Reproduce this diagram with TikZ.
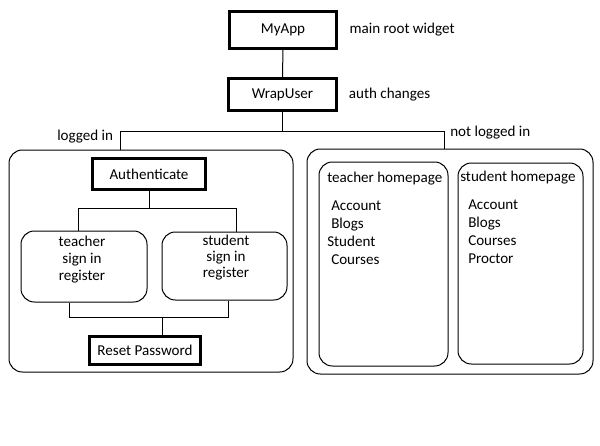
\documentclass[tikz,border=0pt]{standalone}
\usepackage{fontspec}
\setmainfont{Carlito}
\usetikzlibrary{positioning}
\definecolor{SketchInk}{HTML}{000000}
\tikzset{
  every node/.style={font=\fontsize{11.3pt}{13.5pt}\selectfont, text=SketchInk, inner sep=0pt},
  widget/.style={draw=SketchInk, line width=2.25pt},
  panel/.style={draw=SketchInk, line width=0.75pt, rounded corners=10pt},
  wire/.style={draw=SketchInk, line width=0.75pt},
}

\begin{document}
\begin{tikzpicture}[x=0.75pt,y=-0.75pt]
  \useasboundingbox (0,0) rectangle (600,446);
  % Root widgets
  \node[widget, minimum width=80.25pt, minimum height=27.75pt] (myapp) at (283,30) {MyApp};
  \node[widget, minimum width=81pt, minimum height=24pt] (wrap) at (282.5,94.5) {WrapUser};
  \node[right=8.5pt of myapp] (rootnote) {main root widget};
  \node[right=8pt of wrap] (authnote) {auth changes};
  \draw[wire] (myapp) -- (wrap);
  % Branches
  \coordinate (inL) at (120,131);
  \coordinate (inR) at (444,131);
  \node[panel, minimum width=213pt, minimum height=166.5pt] (logged) at (151,261) {};
  \node[panel, minimum width=214.5pt, minimum height=168.75pt] (guest) at (450,261.5) {};
  \draw[wire] (wrap) -- (wrap.south |- inL);
  \draw[wire] (logged.north -| inL) -- (inL) -- (inR) -- (guest.north -| inR);
  \node[anchor=base west] (inlabel) at (57,140) {logged in};
  \node[anchor=base west] (outlabel) at (450,136) {not logged in};
  % Panel logged in
  \node[widget, minimum width=84.75pt, minimum height=23.25pt] (auth) at (149,174) {Authenticate};
  \node[panel, minimum width=94.5pt, minimum height=53.25pt] (tsign) at (84,266.5) {};
  \node[panel, minimum width=93.75pt, minimum height=51pt] (ssign) at (224.5,266) {};
  \node[widget, minimum width=83.25pt, minimum height=21pt] (reset) at (145,350.5) {Reset Password};
  \foreach \entry [count=\i] in {teacher,sign in,register}
    \node[anchor=base] (tsigntxt\i) at (82,229+17*\i) {\entry};
  \foreach \entry [count=\i] in {student,sign in,register}
    \node[anchor=base] (ssigntxt\i) at (226,229+16*\i) {\entry};
  \coordinate (splitL) at (78,208);
  \coordinate (splitR) at (236,208);
  \draw[wire] (auth) -- (auth.south |- splitL);
  \draw[wire] (tsign.north -| splitL) -- (splitL) -- (splitR) -- (ssign.north -| splitR);
  \coordinate (joinL) at (69,317);
  \coordinate (joinR) at (228,317);
  \coordinate (joinM) at (162,317);
  \draw[wire] (tsign.south -| joinL) -- (joinL) -- (joinR) -- (ssign.south -| joinR);
  \draw[wire] (joinM) -- (reset.north -| joinM);
  % Panel not logged in
  \node[panel, minimum width=96.75pt, minimum height=153pt] (thome) at (383.5,264) {};
  \node[panel, minimum width=93.75pt, minimum height=150.75pt] (shome) at (520.5,263.5) {};
  \node[anchor=base west] (thometitle) at (327,182) {teacher homepage};
  \node[anchor=base west] (shometitle) at (460,181) {student homepage};
  \foreach \dx/\entry [count=\i] in {4/Account,4/Blogs,0/Student,4/Courses}
    \node[anchor=base west] (tlist\i) at (327+\dx,192+18*\i) {\entry};
  \foreach \entry [count=\i] in {Account,Blogs,Courses,Proctor}
    \node[anchor=base west] (slist\i) at (468,191+18*\i) {\entry};
\end{tikzpicture}
\end{document}
